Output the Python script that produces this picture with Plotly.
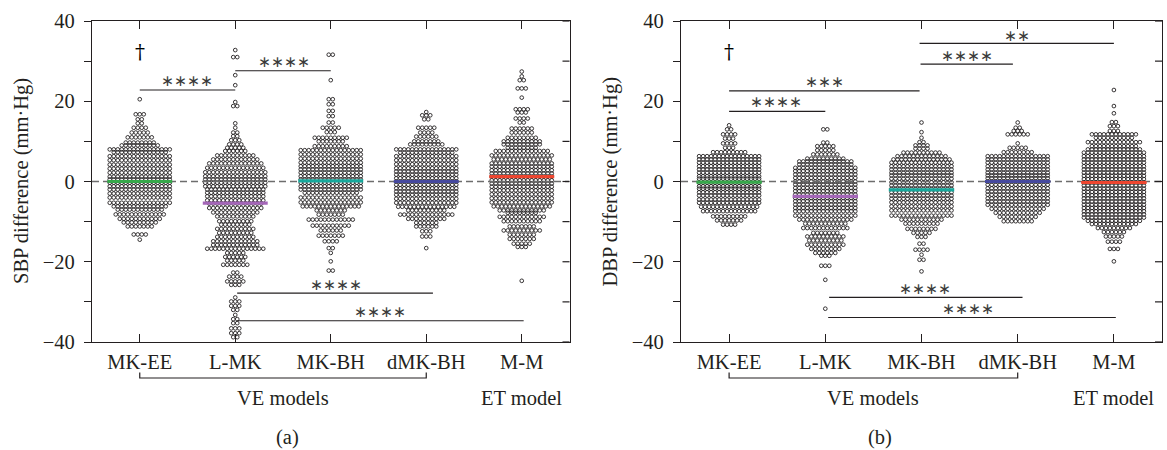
import plotly.graph_objects as go

CATEGORIES = ["MK-EE", "L-MK", "MK-BH", "dMK-BH", "M-M"]
MEAN_COLORS = ["#37a84b", "#a466b8", "#17a89c", "#46499f", "#ee4630"]

# ---------------- Panel (a): SBP difference, rows of the swarm (value, count) ----------------
A_MKEE_Y = [20.5, 16.75, 15.5, 14.5, 13.4, 12.2, 11, 9.7, 9, 8, 7.3, 6.3, 5.3, 4.2, 3.2, 2.2, 1.2, 0.5,
            -0.3, -1.2, -2, -3, -4, -5.3, -6.2, -7, -8.2, -9.3, -10.2, -11.2, -13.2, -14.5]
A_MKEE_N = [1, 3, 2, 2, 4, 5, 7, 8, 10, 16, 14, 16, 16, 16, 16, 16, 16, 16,
            16, 16, 16, 16, 16, 16, 14, 12, 13, 11, 9, 7, 4, 1]

A_LMK_Y = [32.75, 31, 26.5, 24, 19.8, 18.8, 14.5, 13.4, 12.2, 11.3, 10.3, 9.25, 8.4, 7.6,
           6.5, 5.5, 4.5, 3.4, 2.3, 1.3, 0.5, -0.3, -1.2, -2, -2.8, -3.7, -4.7, -5.5, -6.6, -7.7,
           -8.7, -9.9, -10.75, -11.8, -12.8, -13.8, -14.9, -15.8, -16.75, -17.8, -18.8, -19.7, -20.75,
           -22.7, -23.7, -24.9, -25.75, -28.9, -29.9, -31, -32, -33.25, -34.3, -35.3, -36.6, -37.8, -38.8]
A_LMK_N = [1, 2, 1, 1, 1, 2, 1, 1, 2, 2, 3, 4, 5, 6,
           10, 12, 14, 15, 16, 16, 16, 16, 16, 15, 15, 15, 15, 14, 14, 12,
           10, 9, 8, 10, 9, 10, 12, 12, 15, 5, 6, 5, 7,
           2, 4, 5, 3, 1, 3, 3, 2, 1, 2, 2, 3, 3, 2]

A_MKBH_Y = [31.6, 25.25, 20.5, 19.25, 17.6, 16.3, 14.7, 13.4, 12.3, 10.9, 10.0, 8.8, 7.8, 6.75, 5.7, 4.7,
            3.8, 3.0, 2.2, 1.3, 0.5, -0.3, -1.2, -2.0, -2.8, -4.0, -5.2, -6.2, -7.2, -8.25, -9.5, -11.0,
            -12.2, -13.5, -14.9, -16.6, -17.8, -19.9, -22.2]
A_MKBH_N = [2, 1, 2, 2, 2, 2, 2, 5, 3, 9, 7, 9, 16, 16, 16, 16,
            16, 16, 16, 16, 16, 16, 16, 16, 14, 16, 16, 15, 8, 7, 12, 10,
            6, 7, 4, 2, 1, 1, 2]

A_DMKBH_Y = [17.3, 16.5, 15.5, 13.4, 12.2, 11.2, 10.0, 9.25, 8.0, 7.2, 6.3, 5.3, 4.3, 3.3, 2.5, 1.7,
             0.8, 0.0, -0.8, -1.7, -2.5, -3.3, -4.3, -5.3, -6.3, -7.2, -8.25, -9.3, -10.3, -11.2, -12.4,
             -13.7, -16.6]
A_DMKBH_N = [1, 3, 2, 5, 4, 6, 7, 9, 16, 14, 16, 16, 16, 16, 16, 16,
             16, 16, 16, 16, 16, 16, 16, 16, 15, 10, 14, 10, 6, 6, 3,
             3, 1]

A_MM_Y = [27.4, 26.2, 25.25, 23.2, 20.9, 18.0, 17.2, 15.7, 14.7, 13.2, 12.2, 10.9, 10.0, 9.25, 8.4, 7.6,
          6.5, 5.5, 4.5, 3.7, 2.8, 2.0, 1.2, 0.3, -0.5, -1.3, -2.2, -3.2, -4.2, -5.2, -6.2, -7.2,
          -7.8, -8.8, -9.9, -11.2, -12.2, -13.25, -14.3, -15.5, -16.3, -24.75]
A_MM_N = [1, 1, 2, 3, 1, 4, 3, 4, 2, 6, 6, 8, 10, 10, 8, 14,
          16, 15, 16, 16, 16, 16, 16, 16, 16, 16, 16, 16, 16, 16, 15, 12,
          8, 12, 10, 7, 10, 7, 7, 5, 3, 1]

A_MEANS = [0.0, -5.4, 0.15, 0.0, 1.2]

# ---------------- Panel (b): DBP difference ----------------
B_MKEE_Y = [14.0, 13.0, 11.75, 10.7, 9.5, 8.4, 7.3, 6.3, 5.5, 4.7, 3.8, 3.0, 2.2, 1.3, 0.7, -0.3, -1.2,
            -1.8, -2.7, -3.5, -4.5, -5.3, -6.3, -7.4, -8.7, -9.7, -10.75]
B_MKEE_N = [1, 2, 4, 3, 4, 3, 9, 16, 16, 16, 16, 16, 16, 16, 16, 16, 16,
            16, 16, 16, 16, 16, 15, 14, 9, 7, 4]

B_LMK_Y = [13.0, 9.7, 8.8, 7.8, 6.75, 5.7, 5.0, 4.25, 3.4, 2.6, 1.75, 0.9, 0.0, -0.75, -1.6, -2.4,
           -3.25, -4.1, -4.9, -5.75, -6.6, -7.4, -8.5, -9.5, -10.5, -11.6, -12.8, -13.7, -14.7, -15.75,
           -16.8, -17.8, -18.5, -21.0, -24.5, -31.7]
B_LMK_N = [2, 2, 5, 5, 7, 10, 14, 14, 16, 16, 16, 16, 16, 16, 16, 16,
           16, 16, 16, 16, 16, 16, 16, 14, 11, 12, 7, 10, 9, 10,
           8, 6, 3, 3, 1, 1]

B_MKBH_Y = [14.7, 12.3, 10.9, 9.8, 9.0, 8.2, 7.2, 6.3, 5.5, 4.7, 3.8, 3.0, 2.2, 1.5, 0.7, -0.2,
            -1.0, -1.8, -2.7, -3.5, -4.3, -5.2, -6.2, -7.2, -8.5, -9.5, -10.5, -11.8, -12.8, -13.8,
            -15.5, -17.0, -18.25, -19.5, -22.4]
B_MKBH_N = [1, 1, 1, 2, 4, 4, 10, 13, 15, 16, 16, 16, 16, 16, 16, 16,
            16, 16, 16, 16, 16, 16, 16, 16, 16, 11, 9, 8, 5, 3,
            2, 4, 1, 2, 1]

B_DMKBH_Y = [14.7, 13.4, 12.6, 11.75, 9.5, 8.4, 7.3, 6.3, 5.5, 4.7, 3.8, 3.0, 2.2, 1.5, 0.8, 0.0,
             -0.8, -1.7, -2.5, -3.3, -4.2, -5.0, -5.8, -6.8, -7.8, -8.8, -9.9]
B_DMKBH_N = [1, 2, 3, 6, 1, 5, 8, 16, 16, 16, 16, 16, 16, 16, 16, 16,
             16, 16, 16, 16, 16, 16, 16, 14, 12, 10, 8]

B_MM_Y = [22.8, 18.8, 17.0, 14.8, 13.8, 12.6, 11.75, 10.9, 9.8, 8.8, 8.0, 7.2, 6.3, 5.5, 4.7, 3.8,
          3.0, 2.2, 1.4, 0.6, -0.2, -1.0, -1.8, -2.6, -3.4, -4.2, -5.0, -5.8, -6.6, -7.4, -8.2, -9.0,
          -9.8, -10.6, -11.6, -12.6, -13.7, -15.0, -16.8, -19.9]
B_MM_N = [1, 1, 1, 2, 3, 3, 12, 10, 14, 12, 14, 16, 16, 16, 16, 16,
          16, 16, 16, 16, 16, 16, 16, 16, 16, 16, 16, 16, 16, 16, 16, 16,
          14, 12, 9, 6, 5, 4, 3, 1]

B_MEANS = [-0.15, -3.7, -2.1, 0.0, -0.25]

# ---------------- significance brackets ----------------
A_SIG_X0 = [0, 1, 1.02, 1.02]
A_SIG_X1 = [1, 2, 3.07, 4.02]
A_SIG_Y = [22.8, 27.6, -27.8, -34.7]
A_SIG_TEXT = ["****", "****", "****", "****"]
A_SIG_TX = [0.49, 1.51, 2.05, 2.52]
A_SIG_TY = [25.0, 29.7, -25.7, -32.4]

B_SIG_X0 = [0, 0, 1.99, 1.98, 1.04, 1.03]
B_SIG_X1 = [1, 1.98, 2.95, 4.0, 3.05, 4.02]
B_SIG_Y = [17.5, 22.6, 29.25, 34.4, -28.9, -33.9]
B_SIG_TEXT = ["****", "***", "****", "**", "****", "****"]
B_SIG_TX = [0.49, 0.99, 2.47, 2.99, 2.04, 2.48]
B_SIG_TY = [19.7, 24.9, 31.2, 36.3, -26.8, -31.8]

Y_TICKS = [-40, -30, -20, -10, 0, 10, 20, 30, 40]
Y_TICKTEXT = ["\u221240", "", "\u221220", "", "0", "", "20", "", "40"]

PANELS = [
    dict(rows=[(A_MKEE_Y, A_MKEE_N), (A_LMK_Y, A_LMK_N), (A_MKBH_Y, A_MKBH_N),
               (A_DMKBH_Y, A_DMKBH_N), (A_MM_Y, A_MM_N)],
         means=A_MEANS, sig=(A_SIG_X0, A_SIG_X1, A_SIG_Y, A_SIG_TEXT, A_SIG_TX, A_SIG_TY),
         title="SBP difference (mm\u00b7Hg)", tag="(a)"),
    dict(rows=[(B_MKEE_Y, B_MKEE_N), (B_LMK_Y, B_LMK_N), (B_MKBH_Y, B_MKBH_N),
               (B_DMKBH_Y, B_DMKBH_N), (B_MM_Y, B_MM_N)],
         means=B_MEANS, sig=(B_SIG_X0, B_SIG_X1, B_SIG_Y, B_SIG_TEXT, B_SIG_TX, B_SIG_TY),
         title="DBP difference (mm\u00b7Hg)", tag="(b)"),
]

# ---------------- layout geometry ----------------
W, H = 1167, 450
ML, MR, MT, MB = 92, 5, 21, 108
PLOT_W = W - ML - MR
LEFT_PX = (92, 569.5)
RIGHT_PX = (681, 1162)
DOMAINS = [[(LEFT_PX[0] - ML) / PLOT_W, (LEFT_PX[1] - ML) / PLOT_W],
           [(RIGHT_PX[0] - ML) / PLOT_W, (RIGHT_PX[1] - ML) / PLOT_W]]
PANEL_PX = [LEFT_PX[1] - LEFT_PX[0], RIGHT_PX[1] - RIGHT_PX[0]]
PLOT_H = H - MT - MB
TITLE_X_PX = [21.5, 610]
TAG_X = [1.55, 1.57]
POINT_PX = 4.0
MEAN_HALF = 0.34
FS = 20.5

FONT = "Liberation Serif, Times New Roman, serif"
INK = "#231f20"

fig = go.Figure()
shapes = []
annotations = []

for p, panel in enumerate(PANELS):
    xa = "x" if p == 0 else "x2"
    ya = "y" if p == 0 else "y2"
    dx = POINT_PX / (PANEL_PX[p] / 5.0)
    # swarm points
    for c, (ys, ns) in enumerate(panel["rows"]):
        px, py = [], []
        for yv, n in zip(ys, ns):
            for k in range(n):
                px.append(c + (k - (n - 1) / 2.0) * dx)
                py.append(yv)
        fig.add_trace(go.Scatter(x=px, y=py, mode="markers", xaxis=xa, yaxis=ya,
                                 marker=dict(symbol="circle-open", size=3.7, color=INK,
                                             line=dict(width=0.9, color=INK)),
                                 showlegend=False, hoverinfo="y"))
    # zero dashed line
    fig.add_trace(go.Scatter(x=[-0.5, 4.5], y=[0, 0], mode="lines", xaxis=xa, yaxis=ya,
                             line=dict(color="#6d6d6d", width=1.6, dash="7px,4px"),
                             showlegend=False, hoverinfo="skip"))
    # mean lines
    for c, m in enumerate(panel["means"]):
        fig.add_trace(go.Scatter(x=[c - MEAN_HALF, c + MEAN_HALF], y=[m, m], mode="lines",
                                 xaxis=xa, yaxis=ya, line=dict(color=MEAN_COLORS[c], width=3.2),
                                 showlegend=False, hoverinfo="skip"))
    # significance bars
    x0s, x1s, yls, txts, txs, tys = panel["sig"]
    for x0, x1, yl, t, tx, ty in zip(x0s, x1s, yls, txts, txs, tys):
        fig.add_trace(go.Scatter(x=[x0, x1], y=[yl, yl], mode="lines", xaxis=xa, yaxis=ya,
                                 line=dict(color=INK, width=1.2), showlegend=False,
                                 hoverinfo="skip"))
        annotations.append(dict(x=tx, y=ty, xref=xa, yref=ya, text="\u2217" * len(t),
                                showarrow=False, font=dict(family="DejaVu Sans", size=15.5, color="#3a3a3a")))
    # dagger
    annotations.append(dict(x=0, y=32.2, xref=xa, yref=ya, text="\u2020", showarrow=False,
                            font=dict(family="DejaVu Serif", size=20, color="#000000")))
    # right-side inward ticks
    tick_frac = 7.0 / PANEL_PX[p]
    for tv in Y_TICKS:
        shapes.append(dict(type="line", xref=xa + " domain", yref=ya, x0=1, x1=1 - tick_frac,
                           y0=tv, y1=tv, line=dict(color=INK, width=1.2)))
    # bracket under axis for VE models
    yb = -(378 - (H - MB)) / PLOT_H
    yt = -(372.5 - (H - MB)) / PLOT_H
    shapes.append(dict(type="path", xref=xa, yref="paper",
                       path=f"M 0 {yt} L 0 {yb} L 3 {yb} L 3 {yt}",
                       line=dict(color=INK, width=1.2)))
    annotations.append(dict(x=1.5, y=-(398 - (H - MB)) / PLOT_H, xref=xa, yref="paper",
                            text="VE models", showarrow=False, yanchor="middle",
                            font=dict(family=FONT, size=FS, color=INK)))
    annotations.append(dict(x=4, y=-(398 - (H - MB)) / PLOT_H, xref=xa, yref="paper",
                            text="ET model", showarrow=False, yanchor="middle",
                            font=dict(family=FONT, size=FS, color=INK)))
    annotations.append(dict(x=TAG_X[p], y=-(437 - (H - MB)) / PLOT_H, xref=xa, yref="paper",
                            text=panel["tag"], showarrow=False, yanchor="middle",
                            font=dict(family=FONT, size=FS, color=INK)))
    annotations.append(dict(x=(TITLE_X_PX[p] - ML) / PLOT_W, y=0.5, xref="paper", yref="paper",
                            text=panel["title"], textangle=-90, showarrow=False,
                            xanchor="center", yanchor="middle",
                            font=dict(family=FONT, size=FS, color=INK)))

axis_common_x = dict(range=[-0.5, 4.5], tickvals=list(range(5)), ticktext=CATEGORIES,
                     ticks="inside", ticklen=8, tickwidth=1.2, tickcolor=INK,
                     showline=True, linecolor=INK, linewidth=1.3, mirror="ticks",
                     showgrid=False, zeroline=False, ticklabelstandoff=1,
                     tickfont=dict(family=FONT, size=FS, color=INK))
axis_common_y = dict(range=[-40, 40], tickvals=Y_TICKS, ticktext=Y_TICKTEXT,
                     ticks="outside", ticklen=7, tickwidth=1.2, tickcolor=INK,
                     showline=True, linecolor=INK, linewidth=1.3, mirror=True,
                     showgrid=False, zeroline=False, ticklabelstandoff=5,
                     tickfont=dict(family=FONT, size=FS, color=INK))

fig.update_layout(
    width=W, height=H,
    margin=dict(l=ML, r=MR, t=MT, b=MB),
    paper_bgcolor="white", plot_bgcolor="white",
    xaxis=dict(domain=DOMAINS[0], anchor="y", **axis_common_x),
    xaxis2=dict(domain=DOMAINS[1], anchor="y2", **axis_common_x),
    yaxis=dict(anchor="x", **axis_common_y),
    yaxis2=dict(anchor="x2", **axis_common_y),
    shapes=shapes,
    annotations=annotations,
    showlegend=False,
)

fig.write_html("out.html", config={"displayModeBar": False},
               post_script="document.body.style.margin='0px';document.body.style.overflow='hidden';")
